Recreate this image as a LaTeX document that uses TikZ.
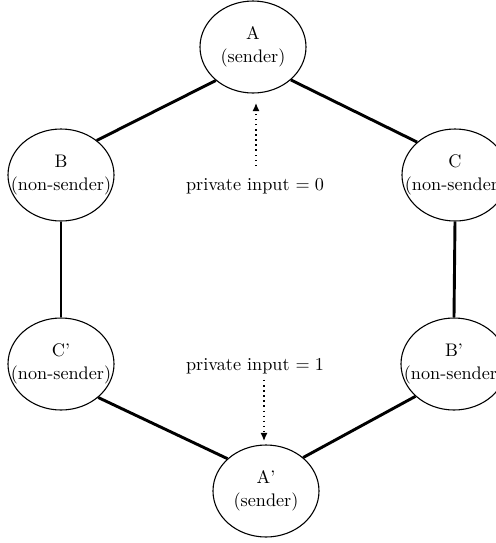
\documentclass[tikz,border=0pt]{standalone}
\usetikzlibrary{shapes.geometric,arrows.meta}
\begin{document}
\begin{tikzpicture}[x=0.55pt,y=-0.55pt,
  party/.style={ellipse,draw,line width=0.6pt,minimum width=58.3pt,minimum height=50.6pt,inner sep=0pt},
  lbl/.style={align=center,font=\fontsize{10}{12.5}\selectfont},
  link/.style={line width=1.6pt},
  inarr/.style={dotted,line width=0.8pt,-{Latex[length=4.5pt,width=4pt]}}]
\useasboundingbox (0,0) rectangle (496,543);
% parties
\node[party] (A)  at (253,47)  {};
\node[party] (B)  at (61,175)  {};
\node[party] (C)  at (455,175) {};
\node[party] (Cp) at (61,364)  {};
\node[party] (Bp) at (454,364) {};
\node[party] (Ap) at (266,491) {};
\node[lbl] (tA)  at (A)  {A\\(sender)};
\node[lbl] (tB)  at (B)  {B\\(non-sender)};
\node[lbl] (tC)  at (C)  {C\\(non-sender)};
\node[lbl] (tCp) at (Cp) {C'\\(non-sender)};
\node[lbl] (tBp) at (Bp) {B'\\(non-sender)};
\node[lbl] (tAp) at (Ap) {A'\\(sender)};
% ring
\draw[link] (A.222) -- (B.44);
\draw[link] (A.319) -- (C.139);
\draw[link] (B.south) -- (Cp.north);
\draw[link] (C.south) -- (Bp.north);
\draw[link] (Cp.318) -- (Ap.140);
\draw[link] (Bp.220) -- (Ap.42);
% private inputs
\node[lbl,anchor=base] (in0) at (255,190) {private input $= 0$};
\node[lbl,anchor=base] (in1) at (255,370) {private input $= 1$};
\coordinate (t0) at (256,103);
\coordinate (t1) at (264,441);
\draw[inarr,shorten <=3pt] (in0.north -| t0) -- (t0);
\draw[inarr] (in1.south -| t1) -- (t1);
\end{tikzpicture}
\end{document}
